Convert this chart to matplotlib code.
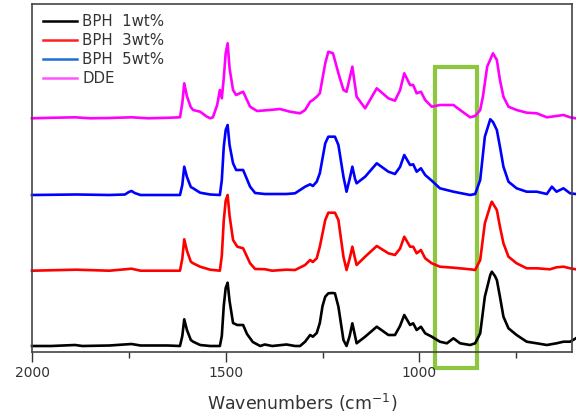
import matplotlib
matplotlib.use('Agg')
import matplotlib.pyplot as plt
from matplotlib.lines import Line2D
from matplotlib.patches import Rectangle

# FT-IR spectra (wavenumber, intensity above own baseline, a.u.)
bph1_wn = [2000, 1950, 1889, 1870, 1800, 1743, 1720, 1650, 1618, 1612, 1607, 1600, 1590, 1584,
           1566, 1540, 1515, 1510, 1505, 1500, 1495, 1490, 1481, 1470, 1455, 1445, 1430, 1411,
           1399, 1380, 1343, 1321, 1308, 1295, 1282, 1275, 1265, 1257, 1250, 1243, 1235, 1225,
           1218, 1209, 1196, 1188, 1180, 1173, 1166, 1162, 1140, 1110, 1080, 1063, 1050, 1039,
           1024, 1016, 1007, 996, 985, 968, 947, 929, 912, 895, 869, 856, 843, 831, 817, 813,
           805, 800, 792, 783, 770, 749, 723, 697, 671, 646, 628, 611, 596]
bph1_int = [0, 0, 1, 0, 0.5, 2, 0.5, 0.5, 0, 10, 26.7, 16, 6, 4.3,
            1, 0, 0, 10, 40, 58, 63.3, 45, 23, 21, 21, 12, 4, 0,
            1.5, 0, 1.5, 0, 0, 4.3, 11, 9.3, 13, 23, 40, 49.3, 52.7, 53,
            52.7, 39.3, 6, 0, 10, 22.7, 10, 2.7, 9.3, 19.3, 11, 11, 20, 31,
            21, 22.7, 16, 19.3, 12.7, 9.3, 4.3, 2.7, 7.7, 2.7, 1, 2.7, 12.7, 49.3, 71, 74.3,
            70, 66, 49.3, 29.3, 17.7, 11, 4.3, 2.7, 1, 2.7, 4.3, 4.3, 7.7]

bph3_wn = [2000, 1885, 1800, 1743, 1720, 1618, 1612, 1607, 1600, 1590, 1584, 1566, 1540, 1515,
           1510, 1505, 1500, 1495, 1490, 1481, 1470, 1455, 1437, 1424, 1399, 1380, 1343, 1321,
           1295, 1282, 1275, 1265, 1257, 1243, 1235, 1225, 1218, 1209, 1196, 1188, 1180, 1173,
           1166, 1162, 1140, 1110, 1080, 1063, 1050, 1039, 1024, 1016, 1007, 996, 985, 968,
           947, 912, 869, 856, 843, 831, 817, 813, 800, 792, 783, 770, 749, 723, 697, 663,
           646, 628, 611, 596]
bph3_int = [0, 1, 0, 2, 0, 0, 12, 31.4, 20, 9, 7.4, 4, 1, 0,
            15, 50, 70, 75.7, 55, 30.7, 24, 22.4, 7.4, 1.7, 1.5, 0, 1, 0.7,
            5.7, 10.7, 8.7, 12.4, 24, 50.7, 58, 58, 58, 50.7, 14, 0.7, 12, 24,
            12, 5.7, 14, 24.7, 17.4, 15.7, 22, 34, 24, 24, 17.4, 20.7, 12.4, 7.4,
            4, 3, 1.4, 0.7, 10.7, 47.4, 65, 69, 60.7, 44, 27.4, 14, 7.4, 2.4, 2.4, 1.4,
            3.4, 4, 2.4, 1.4]

bph5_wn = [2000, 1885, 1800, 1760, 1750, 1743, 1735, 1720, 1618, 1612, 1607, 1600, 1590, 1584,
           1566, 1540, 1515, 1510, 1505, 1500, 1495, 1490, 1481, 1473, 1455, 1437, 1424, 1399,
           1343, 1321, 1295, 1282, 1275, 1265, 1257, 1243, 1235, 1225, 1218, 1209, 1196, 1188,
           1180, 1173, 1166, 1162, 1140, 1110, 1080, 1063, 1050, 1039, 1024, 1016, 1007, 996,
           985, 968, 947, 912, 869, 856, 843, 831, 817, 810, 800, 792, 783, 770, 749, 723,
           697, 671, 658, 646, 628, 611, 596]
bph5_int = [0, 0.5, 0, 0.5, 3, 4, 2, 0, 0, 10, 28.3, 18, 8, 6.7,
            2.3, 0.5, 0, 15, 48, 65, 70, 50, 31.7, 25, 25, 8.3, 2, 1,
            1, 1.7, 8.3, 10.7, 9, 13.3, 21.7, 51.7, 58.3, 58.3, 58.3, 50, 18.3, 3.3,
            16, 28.3, 16, 11.7, 18.3, 31.7, 23.3, 21, 28, 40, 30, 30.7, 23.3, 26.7,
            20, 14.3, 6.7, 3.3, 0, 1, 15, 58.3, 75.7, 73, 65, 48.3, 28.3, 13.3, 6.7, 3.3,
            3.3, 1, 8.3, 3.3, 6.7, 1.7, 1]

dde_wn = [2000, 1950, 1889, 1850, 1800, 1743, 1700, 1650, 1618, 1612, 1607, 1600, 1590, 1584,
          1566, 1550, 1540, 1533, 1522, 1515, 1510, 1505, 1500, 1495, 1490, 1481, 1473, 1455,
          1437, 1419, 1386, 1360, 1334, 1308, 1295, 1282, 1275, 1265, 1257, 1243, 1235, 1223,
          1209, 1196, 1188, 1173, 1162, 1140, 1110, 1080, 1063, 1050, 1039, 1024, 1016, 1007,
          996, 985, 968, 947, 912, 895, 869, 856, 843, 836, 825, 810, 800, 792, 783, 770,
          749, 723, 697, 671, 646, 628, 611, 596]
dde_int = [0, 0.5, 1, 0, 0.3, 1, 0, 0.5, 1, 15, 35, 22, 11, 8.3,
           6.6, 2, 0, 1, 13.3, 28.3, 20, 40, 65, 75, 50, 28.3, 23.3, 26.6,
           11.6, 7.3, 8.3, 9.3, 6.6, 5, 8.3, 16.6, 18.3, 21.6, 25, 55, 66.6, 65,
           45, 28.3, 26.6, 51.6, 21.6, 10, 30, 20, 17.6, 28, 45, 33.3, 33.3, 25,
           26.6, 18.3, 11.6, 13.3, 13.3, 8.3, 1, 2.3, 8.3, 21.6, 51.6, 65, 58.3, 38.3, 21.6, 11.6,
           8.3, 5.6, 5, 1, 2.3, 3.3, 1, 0]

labels = ['BPH  1wt%', 'BPH  3wt%', 'BPH  5wt%', 'DDE']
line_colors = ['black', '#ff0000', '#0000ff', '#ff00ff']
legend_colors = ['black', '#ff2020', '#1f6fd0', '#ff55ff']
offsets = [6, 81.3, 157, 233.7]

# region marked in green on the figure
box_wn = (850, 960)


def main():
    fig = plt.figure(figsize=(5.76, 4.16), dpi=100)
    ax = fig.add_axes([32 / 576, 1 - 352 / 416, 540 / 576, 348 / 416])

    series = [(bph1_wn, bph1_int), (bph3_wn, bph3_int), (bph5_wn, bph5_int), (dde_wn, dde_int)]
    for (wn, inten), c, off in zip(series, line_colors, offsets):
        ax.plot(wn, [v + off for v in inten], color=c, lw=1.9, clip_on=False,
                solid_joinstyle='round')

    ax.set_xlim(2000, 606)
    ax.set_ylim(0, 348)
    ax.set_yticks([])
    ax.set_xticks([2000, 1500, 1000])
    ax.set_xticks([1750, 1250, 750], minor=True)
    ax.tick_params(axis='x', which='major', direction='out', length=7, width=1,
                   color='#333333', labelsize=10, labelcolor='#333333', pad=3)
    ax.tick_params(axis='x', which='minor', direction='out', length=4, width=1, color='#333333')
    for s in ax.spines.values():
        s.set_color('#444444')
        s.set_linewidth(1.2)
    ax.set_xlabel(r'Wavenumbers (cm$^{-1}$)', fontsize=12.5, color='#333333', labelpad=9)

    ax.add_patch(Rectangle((box_wn[0], -16), box_wn[1] - box_wn[0], 300.7, fill=False,
                           ec='#8dc63f', lw=3, clip_on=False))

    handles = [Line2D([], [], color=c, lw=1.8) for c in legend_colors]
    ax.legend(handles, labels, loc='upper left', frameon=False, fontsize=10.8,
              handlelength=2.3, handletextpad=0.35, labelspacing=0.25,
              borderaxespad=0.3, labelcolor='#333333')

    fig.savefig('out.png', dpi=100)


if __name__ == '__main__':
    main()
